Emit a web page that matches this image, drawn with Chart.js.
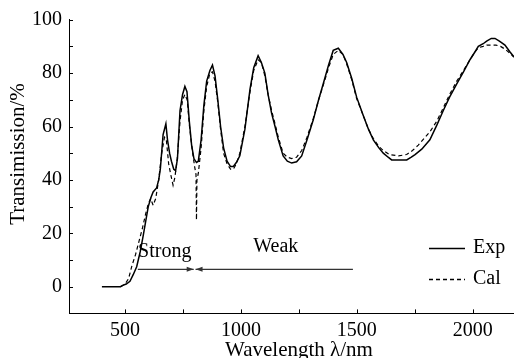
<!doctype html>
<html>

<head>
    <title>Transmission</title>
    <script src="https://cdn.jsdelivr.net/npm/chart.js"></script>
</head>

<body style="margin:0; background-color:#fff;">

    <canvas id="grafico" width="514" height="358"></canvas>

    <script>

        // measured curve (Exp)
        var expWl = [400, 480, 490, 505, 521, 535, 550, 565, 578, 590, 600, 612, 621, 636, 645, 652, 664, 676, 683, 692,
            700, 710, 718, 726, 737, 748, 758, 767, 777, 787, 797, 808, 816, 828, 840, 852, 866, 877, 888, 900,
            912, 925, 940, 955, 967, 980, 995, 1017, 1039, 1055, 1074, 1088, 1103, 1117, 1132, 1147, 1161, 1182, 1200, 1219,
            1240, 1262, 1285, 1312, 1335, 1355, 1378, 1398, 1420, 1440, 1456, 1478, 1499, 1528, 1550, 1571, 1595, 1614, 1635, 1650,
            1680, 1715, 1735, 1751, 1780, 1815, 1845, 1873, 1900, 1931, 1960, 1988, 2010, 2024, 2045, 2060, 2080, 2096, 2115, 2139,
            2160, 2178];
        var expT = [0, 0, 0.5, 1, 2, 4.5, 7.5, 13, 19, 25, 30, 33.5, 35.5, 37, 40, 44, 57, 61, 55, 50,
            47, 44, 43.5, 48, 66, 72, 75, 73, 62, 53, 48, 46.5, 47, 55, 68, 77, 81, 83, 79, 70,
            60, 52, 47, 45, 45, 46.5, 49, 59, 74, 82, 86.5, 84, 80, 72, 65, 60, 55, 49, 47, 46.3,
            46.8, 49, 55, 62.5, 70, 76, 83, 88.5, 89.3, 87, 84, 78, 71, 64, 59, 55, 52, 50, 48.5, 47.5,
            47.5, 47.5, 48.5, 49.5, 51.5, 55, 60.5, 66, 71, 76, 80.5, 85, 88, 90, 91, 92, 93, 93, 92, 90.5,
            88, 86];

        // calculated curve (Cal)
        var calWl = [480, 500, 515, 530, 545, 560, 575, 588, 600, 610, 621, 632, 645, 658, 670, 678, 688, 697, 707, 715,
            725, 737, 748, 758, 768, 778, 790, 800, 806, 808, 810, 816, 828, 840, 852, 866, 877, 888, 900, 912,
            925, 940, 955, 967, 980, 995, 1017, 1039, 1055, 1074, 1088, 1103, 1117, 1132, 1147, 1161, 1182, 1200, 1219, 1240,
            1262, 1285, 1312, 1335, 1355, 1378, 1398, 1420, 1440, 1456, 1478, 1499, 1528, 1550, 1571, 1595, 1614, 1640, 1680, 1715,
            1740, 1765, 1790, 1815, 1845, 1873, 1900, 1931, 1960, 1988, 2010, 2024, 2045, 2060, 2080, 2100, 2120, 2139, 2160, 2178];
        var calT = [0, 1, 3, 8, 12, 17, 22, 27, 31, 33, 30.5, 33, 40, 50, 56, 55, 46, 42, 38, 41,
            48, 62, 70, 72, 70, 60, 51, 45, 42, 25, 40, 42.5, 52, 66, 75, 80, 80.5, 77, 69, 59,
            50, 46, 44, 44, 46, 50, 60, 73, 81, 85, 84, 79, 72, 66, 61, 56, 50, 48.5, 48, 48.5,
            51, 56, 63, 70, 75.5, 82, 87, 88.5, 87, 83.5, 77.5, 70.5, 64, 59, 55.5, 52.5, 51, 49.5, 49, 49.5,
            51, 53, 55.5, 58, 62, 67, 72, 77, 81, 85, 88, 89.5, 90, 90.5, 90.5, 90.5, 90, 89, 87.5, 86];

        var xTicks = [500, 1000, 1500, 2000];
        var xMinorTicks = [750, 1250, 1750];
        var yTicks = [0, 20, 40, 60, 80, 100];
        var yMinorTicks = [-10, 10, 30, 50, 70, 90];

        var serif = '"Liberation Serif", "Times New Roman", serif';
        var fonte = { family: serif, size: 20 };

        // inward tick marks, axis titles, arrows, labels and legend
        var extras = {
            id: 'extras',
            afterDatasetsDraw(chart) {
                var c = chart.ctx;
                var sx = chart.scales.x, sy = chart.scales.y;
                var area = chart.chartArea;
                c.save();
                c.strokeStyle = '#000';
                c.lineWidth = 1;
                c.beginPath();
                xTicks.concat(xMinorTicks).forEach(function (v) {
                    var px = Math.round(sx.getPixelForValue(v)) + 0.5;
                    c.moveTo(px, area.bottom);
                    c.lineTo(px, area.bottom - 4);
                });
                yTicks.concat(yMinorTicks).forEach(function (v) {
                    var py = Math.round(sy.getPixelForValue(v)) + 0.5;
                    c.moveTo(area.left, py);
                    c.lineTo(area.left + 4, py);
                });
                c.stroke();

                // Strong / Weak arrows
                var ay = sy.getPixelForValue(6.5);
                var x1 = sx.getPixelForValue(555);
                var x2 = sx.getPixelForValue(1483);
                var xs = sx.getPixelForValue(796);
                var xw = sx.getPixelForValue(804);
                c.strokeStyle = '#333';
                c.fillStyle = '#333';
                c.lineWidth = 1.2;
                c.beginPath();
                c.moveTo(x1, ay); c.lineTo(xs, ay);
                c.moveTo(xw, ay); c.lineTo(x2, ay);
                c.stroke();
                c.beginPath();
                c.moveTo(xs, ay); c.lineTo(xs - 7, ay - 2.5); c.lineTo(xs - 7, ay + 2.5); c.closePath();
                c.moveTo(xw, ay); c.lineTo(xw + 7, ay - 2.5); c.lineTo(xw + 7, ay + 2.5); c.closePath();
                c.fill();

                c.font = '20px ' + serif;
                c.fillStyle = '#000';
                c.textBaseline = 'middle';
                c.textAlign = 'left';
                c.fillText('Strong', sx.getPixelForValue(556), sy.getPixelForValue(13));
                c.textAlign = 'center';
                c.fillText('Weak', sx.getPixelForValue(1150), sy.getPixelForValue(15));

                // legend
                c.strokeStyle = '#000';
                c.lineWidth = 1.3;
                c.beginPath();
                c.moveTo(429, 248.5); c.lineTo(465, 248.5);
                c.stroke();
                c.setLineDash([4, 3]);
                c.beginPath();
                c.moveTo(429, 279.5); c.lineTo(465, 279.5);
                c.stroke();
                c.setLineDash([]);
                c.textAlign = 'left';
                c.fillText('Exp', 473, 248);
                c.fillText('Cal', 473, 279);

                // axis titles
                c.font = '21px ' + serif;
                c.textAlign = 'center';
                c.fillText('Wavelength λ/nm', 299, 350);
                c.translate(18, 154);
                c.rotate(-Math.PI / 2);
                c.fillText('Transimission/%', 0, 0);
                c.restore();
            }
        };

        var grafico = new Chart(document.getElementById('grafico').getContext('2d'), {
            type: 'line',
            data: {
                datasets: [{
                    label: 'Exp',
                    data: expWl.map(function (w, i) { return { x: w, y: expT[i] }; }),
                    borderColor: '#000',
                    borderWidth: 1.5,
                    pointRadius: 0,
                    fill: false,
                    tension: 0
                }, {
                    label: 'Cal',
                    data: calWl.map(function (w, i) { return { x: w, y: calT[i] }; }),
                    borderColor: '#000',
                    borderWidth: 1.2,
                    borderDash: [4, 3],
                    pointRadius: 0,
                    fill: false,
                    tension: 0
                }]
            },
            options: {
                responsive: false,
                animation: false,
                layout: { padding: { top: 19.7, right: 0, left: 0, bottom: 0 } },
                plugins: { legend: { display: false }, tooltip: { enabled: false } },
                scales: {
                    x: {
                        type: 'linear',
                        min: 258,
                        max: 2178,
                        afterBuildTicks: function (s) { s.ticks = xTicks.map(function (v) { return { value: v }; }); },
                        afterFit: function (s) { s.height = 44.6; },
                        grid: { display: false, drawTicks: false },
                        border: { display: true, color: '#000', width: 1 },
                        ticks: {
                            color: '#000', font: fonte, padding: 5, maxRotation: 0,
                            callback: function (v) { return String(v); }
                        }
                    },
                    y: {
                        min: -10,
                        max: 100,
                        afterBuildTicks: function (s) { s.ticks = yTicks.map(function (v) { return { value: v }; }); },
                        afterFit: function (s) { s.width = 69; },
                        grid: { display: false, drawTicks: false },
                        border: { display: true, color: '#000', width: 1 },
                        ticks: { color: '#000', font: fonte, padding: 7 }
                    }
                }
            },
            plugins: [extras]
        });

    </script>
</body>

</html>
